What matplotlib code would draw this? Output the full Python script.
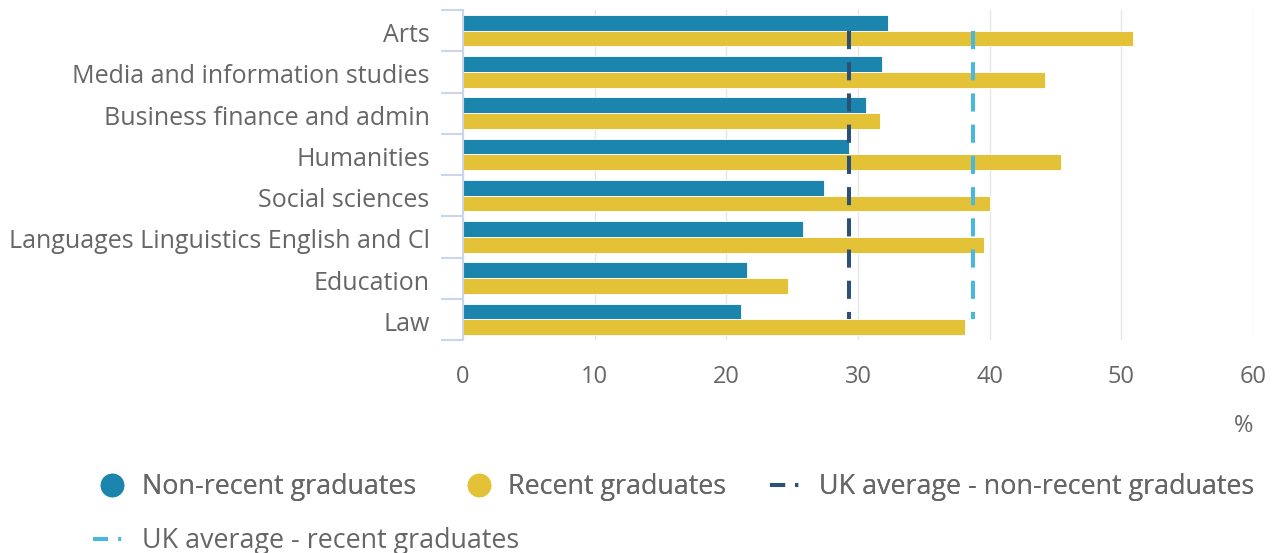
import matplotlib
matplotlib.use("Agg")
import matplotlib.pyplot as plt
from matplotlib.lines import Line2D
import matplotlib.transforms as mtransforms
import numpy as np

categories = ["Arts", "Media and information studies", "Business finance and admin",
              "Humanities", "Social sciences", "Languages Linguistics English and Cl",
              "Education", "Law"]
non_recent = [32.3, 31.8, 30.6, 29.3, 27.4, 25.8, 21.6, 21.1]
recent = [50.9, 44.2, 31.7, 45.4, 40.0, 39.6, 24.7, 38.1]
uk_avg_non_recent = 29.3
uk_avg_recent = 38.7
x_ticks = [0, 10, 20, 30, 40, 50, 60]

BLUE = "#1b85ad"
YELLOW = "#e3c237"
DARK = "#2b5276"
LIGHT = "#49b8e0"
GREY = "#666666"
AXIS = "#ccd6eb"

plt.rcParams['font.family'] = ['Open Sans', 'DejaVu Sans']

fig = plt.figure(figsize=(12.77, 5.53), dpi=100)
ax = fig.add_axes([463/1277, 1-340/553, (1253-463)/1277, 330/553])

y = np.arange(len(categories))
h = 0.38
ax.barh(y - h/2, non_recent, height=h, color=BLUE, edgecolor="white", linewidth=0.6, zorder=2)
ax.barh(y + h/2, recent, height=h, color=YELLOW, edgecolor="white", linewidth=0.6, zorder=2)

ax.plot([uk_avg_non_recent]*len(categories), y, color=DARK, lw=2.9,
        dashes=(4.5, 3.25), solid_capstyle='butt', dash_capstyle='butt', zorder=3)
ax.plot([uk_avg_recent]*len(categories), y, color=LIGHT, lw=2.9,
        dashes=(4.5, 3.25), solid_capstyle='butt', dash_capstyle='butt', zorder=3)

ax.set_xlim(0, 60)
ax.set_ylim(len(categories) - 0.5, -0.5)
ax.set_xticks(x_ticks)
ax.set_xticklabels([str(t) for t in x_ticks])
ax.set_yticks(y)
ax.set_yticklabels(categories)
ax.set_yticks(np.arange(len(categories) + 1) - 0.5, minor=True)

ax.tick_params(axis='x', length=0, pad=18, labelsize=17, labelcolor=GREY)
ax.tick_params(axis='y', which='major', length=0, pad=24, labelsize=18, labelcolor=GREY)
ax.tick_params(axis='y', which='minor', length=16, width=1.5, color=AXIS)

offset = mtransforms.ScaledTranslation(0, -2/100, fig.dpi_scale_trans)
for lab in ax.get_yticklabels():
    lab.set_transform(lab.get_transform() + offset)

for s in ['top', 'right', 'bottom']:
    ax.spines[s].set_visible(False)
ax.spines['left'].set_color(AXIS)
ax.spines['left'].set_linewidth(1.5)
ax.spines['left'].set_zorder(4)

ax.grid(axis='x', color="#e6e6e6", lw=1, zorder=0)
ax.set_axisbelow(True)

ax.set_xlabel('%', loc='right', fontsize=17, color=GREY, labelpad=18)

h1 = Line2D([], [], ls='none', marker='o', markersize=16, color=BLUE)
h2 = Line2D([], [], ls='none', marker='o', markersize=16, color=YELLOW)
h3 = Line2D([], [], color=DARK, lw=2.9, dashes=(3.75, 2.5, 0.75, 10), dash_capstyle='butt')
h4 = Line2D([], [], color=LIGHT, lw=2.9, dashes=(3.75, 2.5, 0.75, 10), dash_capstyle='butt')

common = dict(frameon=False, fontsize=19.4, labelcolor=GREY, handlelength=1.4,
              handletextpad=0.4, borderpad=0, borderaxespad=0, columnspacing=1.63)
leg1 = fig.legend([h1, h2, h3], ["Non-recent graduates", "Recent graduates",
                                  "UK average - non-recent graduates"],
                  loc='center left', bbox_to_anchor=(93/1277, 1-487/553), ncol=3, **common)
leg2 = fig.legend([h4], ["UK average - recent graduates"],
                  loc='center left', bbox_to_anchor=(93/1277, 1-541/553), ncol=1, **common)
fig.add_artist(leg1)

fig.savefig("out.png", dpi=100)
